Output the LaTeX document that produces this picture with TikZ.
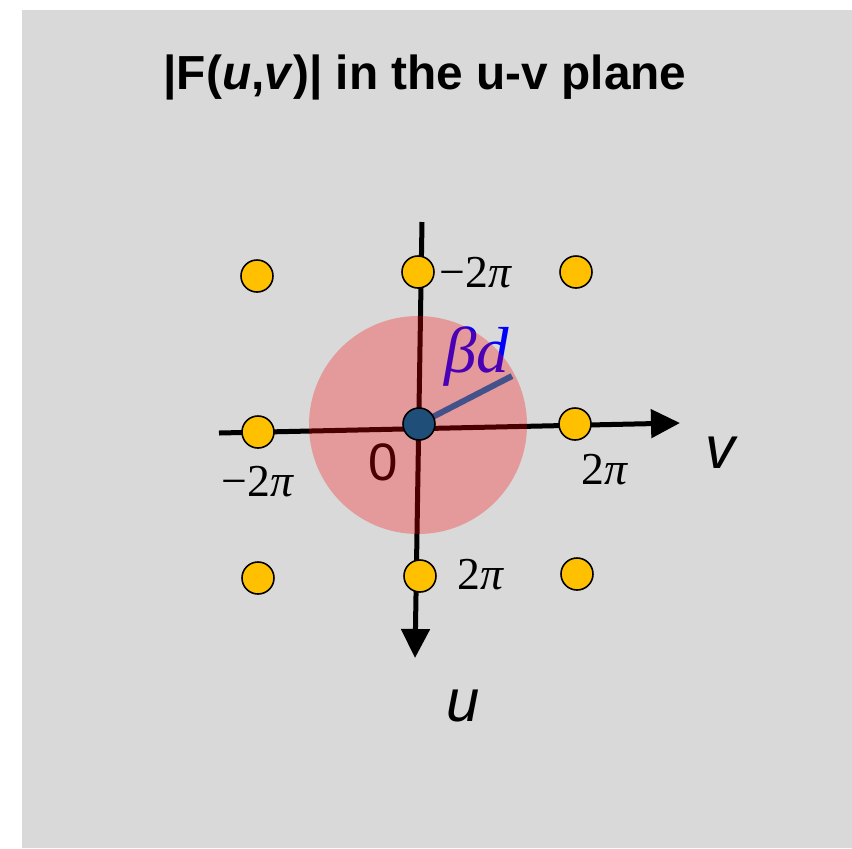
\documentclass[tikz,border=0pt]{standalone}
\usepackage{fontspec}
\setmainfont{Liberation Sans}
\newfontfamily\timesf{Liberation Serif}
\usetikzlibrary{arrows.meta}
\definecolor{Paper}{HTML}{D9D9D9}
\definecolor{Gold}{HTML}{FFC000}
\definecolor{Navy}{HTML}{1F4E79}
\definecolor{Slate}{HTML}{44528C}
\tikzset{
  peak/.style={circle,draw=black,line width=.9pt,fill=Gold,minimum size=.64cm,inner sep=0pt},
  axis/.style={line width=.1cm,-{Triangle[length=.58cm,width=.56cm]}},
  pilabel/.style={font=\timesf\fontsize{26}{30}\selectfont,inner sep=0pt}
}
\begin{document}
\begin{tikzpicture}[>=Stealth]
    \useasboundingbox (-8.38,-8.48) rectangle (8.66,8.48);
    \fill[Paper] (-7.94,-8.48) rectangle (8.66,8.28);
    \node[font=\bfseries\fontsize{27.2}{32}\selectfont] (title) at (0.12,6.94) {|F(\textit{u},\textit{v})| in the u-v plane};
    % axes
    \coordinate (hstart) at (-4.0,-0.18);
    \coordinate (hend) at (5.22,0.02);
    \coordinate (vstart) at (0.06,4.04);
    \coordinate (vend) at (-0.08,-4.68);
    \draw[axis] (hstart)--(hend);
    \draw[axis] (vstart)--(vend);
    \node[font=\itshape\fontsize{34}{40}\selectfont] (vlab) at (6.02,-0.58) {v};
    \node[font=\itshape\fontsize{34}{40}\selectfont] (ulab) at (0.88,-5.64) {u};
    \node[blue,font=\timesf\itshape\fontsize{37}{44}\selectfont,inner sep=0pt] (bd) at (1.16,1.34) {βd};
    \node[font=\fontsize{30}{34}\selectfont,inner sep=0pt] (zero) at (-0.72,-0.76) {0};
    % passband
    \fill[red,opacity=.29] (-0.02,-0.02) circle (2.18);
    \coordinate (origin) at (0,0);
    \coordinate (rim) at (1.86,0.96);
    \draw[Slate,line width=.12cm] (origin)--(rim);
    % peaks
    \node[circle,draw=black,line width=.9pt,fill=Navy,minimum size=.64cm,inner sep=0pt] (c) at (origin) {};
    \node[peak] (tl) at (-3.24,2.96) {};
    \node[peak] (tm) at (-0.02,3.04) {};
    \node[peak] (tr) at (3.14,3.04) {};
    \node[peak] (ml) at (-3.22,-0.16) {};
    \node[peak] (mr) at (3.12,0) {};
    \node[peak] (bl) at (-3.22,-3.08) {};
    \node[peak] (bm) at (0.02,-3.04) {};
    \node[peak] (br) at (3.16,-3.0) {};
    \node[pilabel] (tmlab) at (1.14,3.02) {−2\textit{π}};
    \node[pilabel] (mllab) at (-3.22,-1.16) {−2\textit{π}};
    \node[pilabel] (mrlab) at (3.72,-0.92) {2\textit{π}};
    \node[pilabel] (bmlab) at (1.24,-3.02) {2\textit{π}};
  \end{tikzpicture}
\end{document}
